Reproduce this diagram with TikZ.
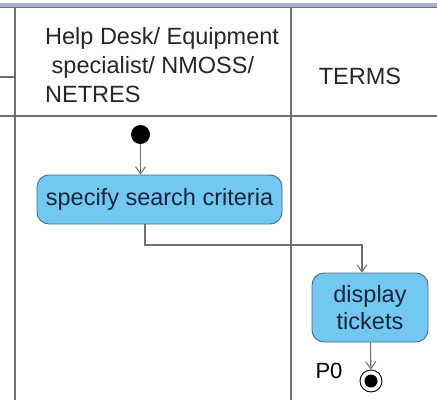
\documentclass[tikz,border=0pt]{standalone}
\usepackage{fontspec}
\setmainfont{Liberation Sans}
\usetikzlibrary{arrows.meta}
\definecolor{lanegray}{HTML}{707070}
\definecolor{boxfill}{HTML}{72C8F0}
\definecolor{boxedge}{HTML}{4A6A82}
\definecolor{boxtext}{HTML}{16263C}
\definecolor{topbar}{HTML}{A2B2C8}
\tikzset{
  laneline/.style={draw=lanegray, line width=1.3pt},
  action/.style={draw=boxedge, fill=boxfill, rounded corners=12pt, line width=0.9pt, inner sep=0pt, text=boxtext, font=\fontsize{23.5}{27}\selectfont, align=center},
  flow/.style={draw=lanegray, line width=1.1pt, -{Straight Barb[length=7pt,width=10pt,line width=1pt]}},
  header/.style={text=black!85, font=\fontsize{23.5}{29}\selectfont, inner sep=0pt}
}
\begin{document}
\begin{tikzpicture}[x=1pt,y=-1pt]
\useasboundingbox (0,0) rectangle (437,400);
% top bar
\fill[topbar] (0,3) rectangle (437,7.5);
\draw[laneline] (0,7.5) -- (437,7.5);
% lanes
\draw[laneline] (15,7.5) -- (15,400);
\draw[laneline] (291,7.5) -- (291,400);
\draw[laneline] (0,116) -- (437,116);
\draw[laneline] (0,77) -- (15,77);
% headers
\node[header, align=left, anchor=north west] (h1) at (45,27) {Help Desk/ Equipment\\ \ specialist/ NMOSS/\\NETRES};
\node[header] (h2) at (360,76) {TERMS};
% nodes
\node[circle, fill=black, minimum size=19pt, inner sep=0pt] (start) at (140.5,134.5) {};
\node[action, minimum width=245pt, minimum height=49pt] (spec) at (159.5,199.5) {specify search criteria};
\node[action, minimum width=116pt, minimum height=69pt] (disp) at (370,307.5) {display\\tickets};
\node[circle, draw=black, line width=0.9pt, minimum size=22pt, inner sep=0pt] (end) at (371,381) {};
\fill[black] (end.center) circle (6.5pt);
\node[text=black, font=\fontsize{22}{25}\selectfont, inner sep=0pt] (p0) at (329,371) {P0};
% connectors
\coordinate (c1) at (145,245);
\coordinate (c2) at (362,245);
\draw[flow] (start) -- (spec.north -| start);
\draw[flow] (spec.south -| c1) -- (c1) -- (c2) -- (disp.north -| c2);
\draw[flow] (disp) -- (end);
\end{tikzpicture}
\end{document}
